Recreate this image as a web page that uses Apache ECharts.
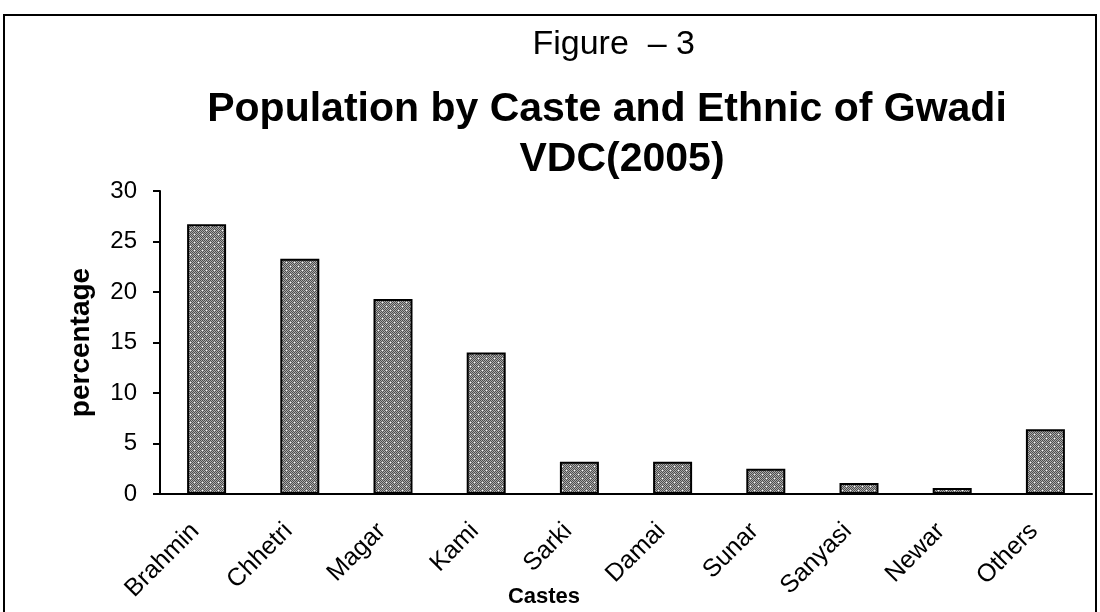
<!DOCTYPE html>
<html>
  <head>
    <meta charset="utf-8" />
    <title>Population by Caste</title>
    <script src="https://cdn.jsdelivr.net/npm/echarts@6/dist/echarts.min.js"></script>
    <style>
      body { margin: 0; background: #fff; }
    </style>
  </head>
  <body>
    <div id="main" style="width: 1100px;height: 612px;"></div>
    <script type="text/javascript">
      var castes = ['Brahmin', 'Chhetri', 'Magar', 'Kami', 'Sarki', 'Damai', 'Sunar', 'Sanyasi', 'Newar', 'Others']
      var percentages = [26.7, 23.3, 19.3, 14.0, 3.2, 3.2, 2.5, 1.1, 0.6, 6.4]
      var yTicks = [0, 5, 10, 15, 20, 25, 30]

      // dotted grey fill like the old excel pattern
      var pat = document.createElement('canvas')
      pat.width = 8
      pat.height = 8
      var pctx = pat.getContext('2d')
      for (var i = 0; i < 8; i++) {
        for (var j = 0; j < 8; j++) {
          pctx.fillStyle = (i + j) % 2 === 0 ? '#4e4e4e' : '#aaaaaa'
          pctx.fillRect(i, j, 1, 1)
        }
      }
      pctx.fillStyle = '#f4f4f4'
      pctx.fillRect(2, 2, 1, 1)
      pctx.fillRect(6, 6, 1, 1)

      var font = 'Liberation Sans, Arial, sans-serif'
      var myChart = echarts.init(document.getElementById('main'))

      var option = {
        animation: false,
        textStyle: { fontFamily: font },
        graphic: [
          {
            type: 'rect',
            shape: { x: 4, y: 15, width: 1092, height: 640 },
            style: { fill: 'none', stroke: '#000', lineWidth: 2 }
          },
          {
            type: 'text',
            style: { x: 695, y: 62, text: 'Figure  \u2013 3', textAlign: 'right', textVerticalAlign: 'bottom',
              fontSize: 34, fontFamily: font, fill: '#000' }
          },
          {
            type: 'text',
            style: { x: 607, y: 130, text: 'Population by Caste and Ethnic of Gwadi', textAlign: 'center', textVerticalAlign: 'bottom',
              fontSize: 41, fontWeight: 'bold', fontFamily: font, fill: '#000' }
          },
          {
            type: 'text',
            style: { x: 622, y: 180, text: 'VDC(2005)', textAlign: 'center', textVerticalAlign: 'bottom',
              fontSize: 41, fontWeight: 'bold', fontFamily: font, fill: '#000' }
          }
        ],
        grid: { left: 160, right: 8, top: 191, bottom: 118, outerBoundsMode: 'none', containLabel: false },
        xAxis: {
          type: 'category',
          data: castes,
          name: 'Castes',
          nameLocation: 'middle',
          nameGap: 92,
          nameMoveOverlap: false,
          nameTextStyle: { fontSize: 22, fontWeight: 'bold', color: '#000', padding: [0, 0, 0, -164] },
          axisLine: { lineStyle: { color: '#000', width: 2 } },
          axisTick: { length: 8, lineStyle: { color: '#000', width: 2 } },
          axisLabel: { rotate: 45, fontSize: 25, color: '#000', margin: 22, padding: [0, 16, 0, 0] }
        },
        yAxis: {
          type: 'value',
          min: yTicks[0],
          max: yTicks[yTicks.length - 1],
          interval: 5,
          name: 'percentage',
          nameLocation: 'middle',
          nameGap: 65,
          nameTextStyle: { fontSize: 28, fontWeight: 'bold', color: '#000' },
          splitLine: { show: false },
          axisLine: { show: true, lineStyle: { color: '#000', width: 2 } },
          axisTick: { show: true, length: 7, lineStyle: { color: '#000', width: 2 } },
          axisLabel: { fontSize: 24, color: '#000', margin: 23 }
        },
        series: [
          {
            type: 'bar',
            data: percentages,
            barWidth: 39,
            itemStyle: {
              color: { image: pat, repeat: 'repeat' },
              borderColor: '#000',
              borderWidth: 2
            }
          }
        ]
      }
      myChart.setOption(option)
    </script>
  </body>
</html>
